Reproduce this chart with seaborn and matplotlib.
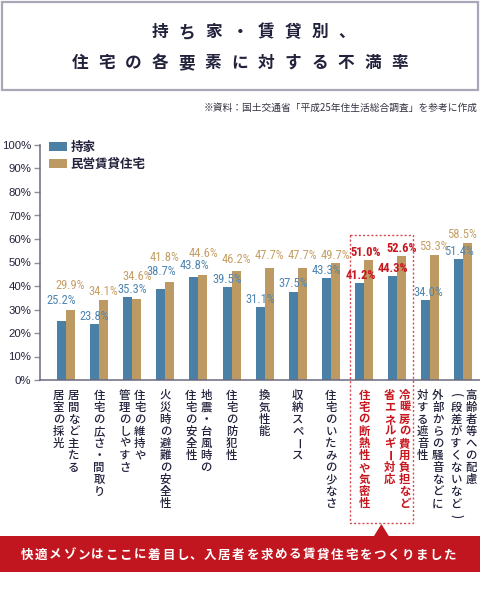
import matplotlib
matplotlib.use("Agg")
import matplotlib.pyplot as plt
import pandas as pd
import seaborn as sns
from matplotlib import font_manager
from matplotlib.patches import Rectangle, Polygon

# data
categories = [
    ["居間など主たる", "居室の採光"],
    ["住宅の広さ・間取り"],
    ["住宅の維持や", "管理のしやすさ"],
    ["火災時の避難の安全性"],
    ["地震・台風時の", "住宅の安全性"],
    ["住宅の防犯性"],
    ["換気性能"],
    ["収納スペース"],
    ["住宅のいたみの少なさ"],
    ["住宅の断熱性や気密性"],
    ["冷暖房の費用負担など", "省エネルギー対応"],
    ["外部からの騒音などに", "対する遮音性"],
    ["高齢者等への配慮", "(段差がすくないなど)"],
]
owner = [25.2, 23.8, 35.3, 38.7, 43.8, 39.5, 31.1, 37.5, 43.3, 41.2, 44.3, 34.0, 51.4]
rental = [29.9, 34.1, 34.6, 41.8, 44.6, 46.2, 47.7, 47.7, 49.7, 51.0, 52.6, 53.3, 58.5]
series_names = ["持家", "民営賃貸住宅"]
highlight = [9, 10]
yticks = list(range(0, 101, 10))

title_lines = ["持ち家・賃貸別、", "住宅の各要素に対する不満率"]
source = "※資料：国土交通省「平成25年住生活総合調査」を参考に作成"
banner = "快適メゾンはここに着目し、入居者を求める賃貸住宅をつくりました"

# label nudges (points, dx/dy) so labels sit like in the original
owner_nudge = [(0, 9), (0, 0), (3, 0), (0, 7), (0, 3), (0, 0), (0, 0),
               (0, 0), (0, 0), (1, 0), (0, 0), (2, 0), (0, 0)]
rental_nudge = [(0, 11.5), (0, 0), (0, 10), (-4, 12), (0, 10), (0, 3), (0, 3),
                (0, 3), (0, 0), (-2, 0), (0, 0), (-1, 0), (-4, 0)]

BLUE = "#4a7fa6"
TAN = "#bd9a63"
BLUE_TXT = "#4e85b1"
TAN_TXT = "#c59f66"
RED = "#c8161e"
NAVY = "#22223d"

W, H = 480, 610

sns.set_style("white")
plt.rcParams["font.family"] = ["Noto Sans CJK JP", "DejaVu Sans"]

installed = {f.name for f in font_manager.fontManager.ttflist}
narrow = next((f for f in ["Roboto Condensed", "Liberation Sans Narrow", "Archivo Narrow"]
               if f in installed), "DejaVu Sans")
num_font = [narrow, "DejaVu Sans"]

keys = ["/".join(c) for c in categories]
df = pd.DataFrame({
    "item": keys * 2,
    "rate": owner + rental,
    "type": [series_names[0]] * len(keys) + [series_names[1]] * len(keys),
})

fig = plt.figure(figsize=(W / 100, H / 100), dpi=100)
ax = fig.add_axes([40 / W, (H - 380) / H, 440 / W, 235 / H])

sns.barplot(data=df, x="item", y="rate", hue="type", order=keys,
            hue_order=series_names, palette=[BLUE, TAN], width=0.544,
            gap=0, saturation=1, linewidth=0, ax=ax)

ax.set_xlim(-0.785, 12.5)
ax.set_ylim(0, 100)
ax.set_yticks(yticks)
ax.set_yticklabels([f"{v}%" for v in yticks])
ax.set_xticks([])
ax.set_xlabel("")
ax.set_ylabel("")
for t in ax.get_yticklabels():
    t.set_fontfamily(["Liberation Sans", "DejaVu Sans"])
ax.tick_params(axis="y", length=4.3, width=1, color="#9090a0",
               labelcolor=NAVY, labelsize=8.2, pad=2, left=True)
for s in ["top", "right"]:
    ax.spines[s].set_visible(False)
for s in ["left", "bottom"]:
    ax.spines[s].set_color("#6a6a80")
    ax.spines[s].set_linewidth(1.1)

# value labels
for cont, vals, col, nudge in zip(ax.containers, [owner, rental],
                                  [BLUE_TXT, TAN_TXT], [owner_nudge, rental_nudge]):
    texts = ax.bar_label(cont, labels=[f"{v:.1f}%" for v in vals], padding=1,
                         fontsize=9, color=col, family=num_font)
    for k, t in enumerate(texts):
        dx, dy = nudge[k]
        t.xyann = (dx, 1 + dy)
        if k in highlight:
            t.set_color(RED)
            t.set_fontweight("bold")

# legend
handles, labels = ax.get_legend_handles_labels()
leg = ax.legend(handles, labels, loc="upper left",
                bbox_to_anchor=(49 / W, 1 - 141 / H), bbox_transform=fig.transFigure,
                frameon=False, handlelength=1.45, handleheight=0.8,
                handletextpad=0.3, labelspacing=0.3, borderpad=0, borderaxespad=0,
                prop={"family": ["Noto Sans CJK JP", "DejaVu Sans"], "size": 9, "weight": "bold"})
for t in leg.get_texts():
    t.set_color(NAVY)

# overlay in pixel coordinates for the decorations
ov = fig.add_axes([0, 0, 1, 1])
ov.set_xlim(0, W)
ov.set_ylim(H, 0)
ov.axis("off")
ov.patch.set_alpha(0)

ov.add_patch(Rectangle((2, 2), 476, 88, fill=False, edgecolor="#a8a8b8", lw=1.6))
for line, x0, y in zip(title_lines, [160, 80], [32, 63]):
    for k, ch in enumerate(line):
        ov.text(x0 + k * 26.6, y, ch, ha="center", va="center", fontsize=12,
                fontweight="bold", color=NAVY)

ov.text(478, 108, source, ha="right", va="center", fontsize=7, color="#333344")


def cat_x(i):
    return 66 + i * 33.12


def vtext(x, y, s, color, weight):
    for k, ch in enumerate(s):
        rot = -90 if ch in "ー()（）" else 0
        ov.text(x, y + k * 12.1, ch, ha="center", va="center", rotation=rot,
                fontsize=8.2, color=color, fontweight=weight)


for i, cols in enumerate(categories):
    hi = i in highlight
    n = len(cols)
    for j, col in enumerate(cols):
        x = cat_x(i) + (n - 1) / 2 * 15 - j * 15
        vtext(x, 395, col, RED if hi else NAVY, "bold" if hi else "medium")

# dashed box around highlighted items
left = cat_x(highlight[0]) - 14
right = cat_x(highlight[-1]) + 15.5
ov.add_patch(Rectangle((left, 235), right - left, 288, fill=False,
                       edgecolor="#d84a52", lw=1, linestyle=(0, (1.5, 1.5))))

# red banner with pointer
mid = (left + right) / 2
ov.add_patch(Rectangle((0, 536), W, 36, facecolor="#c1161f", edgecolor="none"))
ov.add_patch(Polygon([(mid - 8, 537), (mid + 8, 537), (mid, 524)],
                     closed=True, facecolor="#c1161f", edgecolor="none"))
for k, ch in enumerate(banner):
    ov.text(27 + k * 14.1, 555, ch, ha="center", va="center", fontsize=9,
            fontweight="bold", color="white")

fig.savefig("out.png", dpi=100, facecolor="white")
